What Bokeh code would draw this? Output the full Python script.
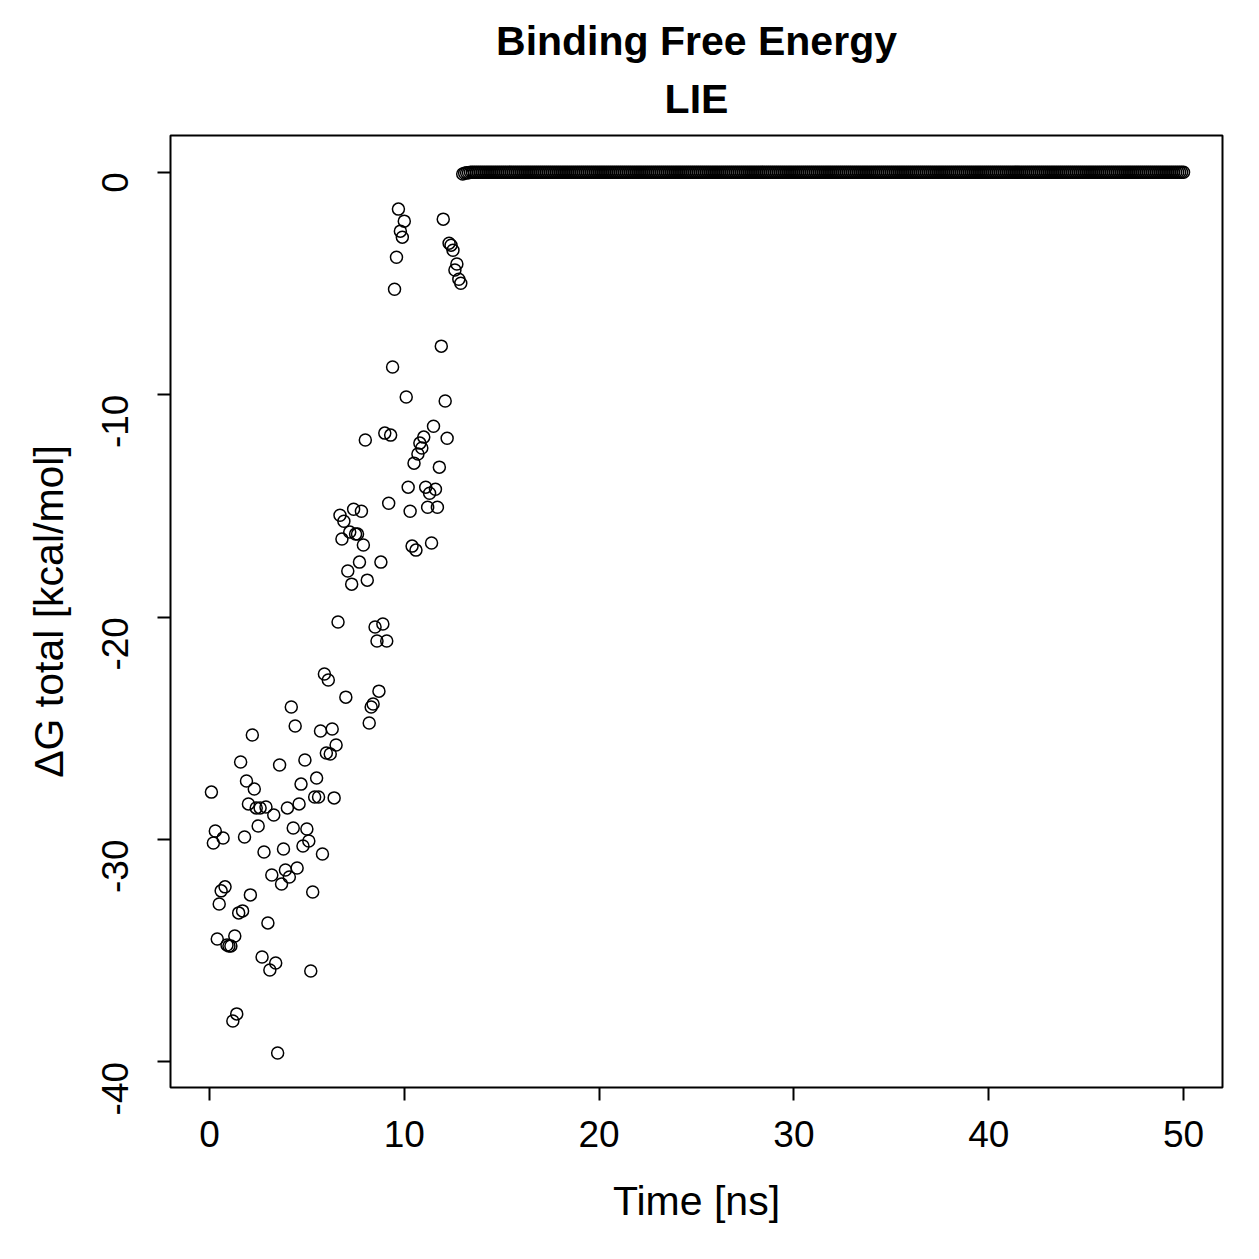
import math
from bokeh.plotting import figure
from bokeh.models import Title, Range1d, FixedTicker
from bokeh.embed import file_html
from bokeh.resources import INLINE

# ---- data ----
# scattered LIE binding free energies for t = 0.1 ... 12.9 ns (step 0.1 ns)
dg_early = [
    -27.87, -30.16, -29.62, -34.47, -32.90, -32.31, -29.93, -32.13, -34.74, -34.79,
    -34.79, -38.16, -34.34, -37.84, -33.30, -26.52, -33.21, -29.89, -27.37, -28.40,
    -32.49, -25.30, -27.73, -28.58, -29.39, -28.58, -35.28, -30.56, -28.54, -33.75,
    -35.87, -31.60, -28.90, -35.55, -39.60, -26.65, -32.00, -30.43, -31.37, -28.58,
    -31.69, -24.04, -29.48, -24.90, -31.28, -28.40, -27.51, -30.29, -26.43, -29.53,
    -30.07, -35.91, -32.36, -28.09, -27.24, -28.09, -25.12, -30.65, -22.56, -26.11,
    -22.83, -26.16, -25.03, -28.13, -25.75, -20.22, -15.42, -16.49, -15.69, -23.60,
    -17.93, -16.18, -18.52, -15.15, -16.27, -16.27, -17.53, -15.24, -16.76, -12.04,
    -18.34, -24.76, -24.04, -23.91, -20.45, -21.08, -23.33, -17.53, -20.31, -11.73,
    -21.08, -14.88, -11.82, -8.76, -5.26, -3.82, -1.66, -2.65, -2.92, -2.20,
    -10.11, -14.16, -15.24, -16.81, -13.08, -16.99, -12.67, -12.18, -12.40, -11.91,
    -14.16, -15.06, -14.43, -16.67, -11.42, -14.25, -15.06, -13.26, -7.82, -2.11,
    -10.29, -11.96, -3.19, -3.28, -3.51, -4.40, -4.13, -4.81, -4.99,
]
# values after 13 ns: essentially zero
dg_late_start = [-0.08, -0.05, -0.03, -0.02]
dg_late_rest = [0.0] * 367
dg = dg_early + dg_late_start + dg_late_rest
time_ns = [round(0.1 * (i + 1), 1) for i in range(len(dg))]

x_ticks = [0, 10, 20, 30, 40, 50]
y_ticks = [-40, -30, -20, -10, 0]
y_tick_labels = {-40: "-40", -30: "-30", -20: "-20", -10: "-10", 0: "0"}

title_main = "Binding Free Energy"
title_sub = "LIE"
x_label = "Time [ns]"
y_label = "ΔG total [kcal/mol]"

FONT = "Liberation Sans"

p = figure(
    width=1259, height=1259,
    output_backend="svg", toolbar_location=None,
    x_range=Range1d(-2.0, 52.0), y_range=Range1d(-41.15, 1.65),
    min_border_left=170, min_border_right=37,
    min_border_top=135, min_border_bottom=172,
    background_fill_color="white", border_fill_color="white",
)
p.grid.visible = False
p.outline_line_color = "black"
p.outline_line_width = 2

t_sub = Title(text=title_sub, align="center", text_font=FONT,
              text_font_size="41px", text_font_style="bold",
              text_color="black", standoff=28)
t_main = Title(text=title_main, align="center", text_font=FONT,
               text_font_size="41px", text_font_style="bold",
               text_color="black", standoff=0)
try:
    t_main.standoff = -8
except Exception:
    t_main.standoff = 0
p.add_layout(t_sub, "above")
p.add_layout(t_main, "above")

p.scatter(time_ns, dg, marker="circle", size=12, fill_color=None,
          line_color="black", line_width=1.5)

for ax in (p.xaxis[0], p.yaxis[0]):
    ax.axis_line_color = None
    ax.major_tick_line_color = "black"
    ax.major_tick_line_width = 2
    ax.major_tick_out = 13
    ax.major_tick_in = 0
    ax.minor_tick_line_color = None
    ax.major_label_text_font = FONT
    ax.major_label_text_font_size = "37px"
    ax.major_label_text_color = "black"
    ax.axis_label_text_font = FONT
    ax.axis_label_text_font_size = "41px"
    ax.axis_label_text_font_style = "normal"
    ax.axis_label_text_color = "black"

p.xaxis[0].ticker = FixedTicker(ticks=x_ticks)
p.yaxis[0].ticker = FixedTicker(ticks=y_ticks)
p.yaxis[0].major_label_overrides = y_tick_labels
p.xaxis[0].axis_label = x_label
p.yaxis[0].axis_label = y_label
p.xaxis[0].major_label_standoff = 20
p.xaxis[0].axis_label_standoff = 28
p.yaxis[0].major_label_orientation = math.pi / 2
p.yaxis[0].major_label_standoff = 42
p.yaxis[0].axis_label_standoff = 15

open("out.html", "w").write(file_html(p, INLINE))
